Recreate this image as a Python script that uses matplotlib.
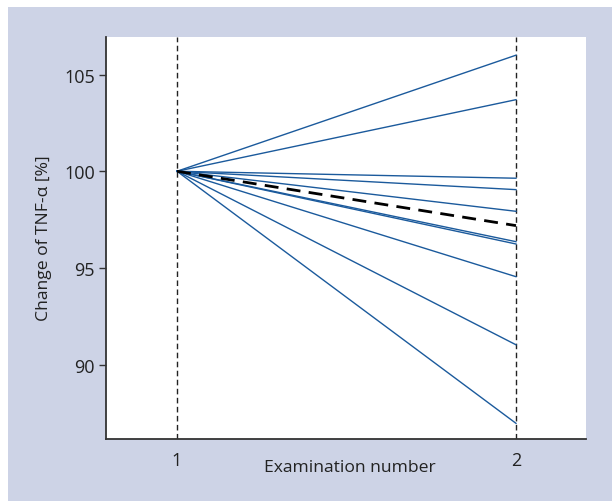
import matplotlib
matplotlib.use("Agg")
import matplotlib.pyplot as plt
from matplotlib.patches import Rectangle

plt.rcParams['font.family'] = ['Open Sans', 'DejaVu Sans']

# Data
exam_numbers = [1, 2]
start_values = [100.0] * 10
end_values = [106.0, 103.7, 99.64, 99.05, 97.93, 96.36, 96.24, 94.55, 91.03, 86.97]
mean_values = [100.0, 97.19]
y_ticks = [90, 95, 100, 105]
x_ticks = [1, 2]

W, H = 612, 502
fig = plt.figure(figsize=(W / 100, H / 100), dpi=100)
fig.patch.set_facecolor('white')
bg = '#CDD3E6'
fig.patches.append(Rectangle((8 / W, 0), 1 - 8 / W, 1 - 8 / H, transform=fig.transFigure,
                             facecolor=bg, edgecolor='none', zorder=-10))

ax = fig.add_axes([106 / W, (H - 440) / H, 480 / W, 402 / H])
ax.set_facecolor('white')

blue = '#1B5A9C'
for s, e in zip(start_values, end_values):
    ax.plot(exam_numbers, [s, e], color=blue, lw=1.0, zorder=3)

ax.plot(exam_numbers, mean_values, color='black', lw=2.0, dashes=(5, 3), zorder=4)

for xv in x_ticks:
    ax.axvline(xv, color='#222222', lw=1.0, dashes=(4, 2.5), zorder=2)

ax.set_xlim(0.7906, 2.2065)
ax.set_ylim(86.16, 106.94)
ax.set_xticks(x_ticks)
ax.set_yticks(y_ticks)

for side in ['top', 'right']:
    ax.spines[side].set_visible(False)
for side in ['left', 'bottom']:
    ax.spines[side].set_color('#333333')
    ax.spines[side].set_linewidth(1.3)

ax.tick_params(axis='y', length=5, width=1.0, color='#333333', labelsize=13,
               labelcolor='#222222', pad=3)
ax.tick_params(axis='x', length=0, labelsize=13, labelcolor='#222222', pad=9)

ax.set_xlabel('Examination number', fontsize=12.6, color='#222222')
ax.xaxis.set_label_coords((350 - 106) / 480, (440 - 468) / 402)
ax.xaxis.label.set_va('center')
ax.set_ylabel('Change of TNF-α [%]', fontsize=12.6, color='#222222')
ax.yaxis.set_label_coords((44.5 - 106) / 480, (440 - 238) / 402)
ax.yaxis.label.set_va('center')

fig.savefig('out.png', dpi=100, facecolor=fig.get_facecolor())
